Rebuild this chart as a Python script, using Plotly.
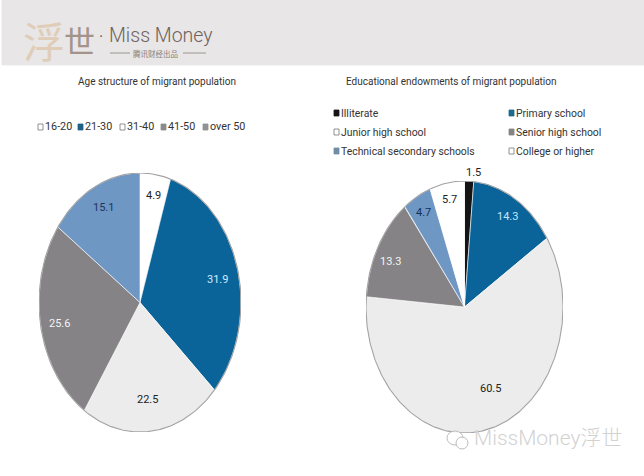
import numpy as np
import plotly.graph_objects as go

W, H = 644, 476

age_labels = ["16-20", "21-30", "31-40", "41-50", "over 50"]
age_values = [4.9, 31.9, 22.5, 25.6, 15.1]
edu_labels = ["Illiterate", "Primary school", "Junior high school", "Senior high school",
              "Technical secondary schools", "College or higher"]
edu_values = [1.5, 14.3, 60.5, 13.3, 4.7, 5.7]

age_title = "Age structure of migrant population"
edu_title = "Educational endowments of migrant population"

WHITE, BLUE, LIGHT, GREY, SKY, BLACK = "#ffffff", "#0a6399", "#ececec", "#858385", "#6f97c4", "#141414"
age_colors = [WHITE, BLUE, LIGHT, GREY, SKY]
edu_colors = [BLACK, BLUE, LIGHT, GREY, SKY, WHITE]
age_text_colors = ["#222222", "#d5ecff", "#222222", "#f4f4f4", "#1c3560"]
edu_text_colors = ["#222222", "#c4e6ff", "#222222", "#f4f4f4", "#12305c", "#222222"]
age_legend_colors = [WHITE, "#1f6285", WHITE, "#8a8a8a", "#8f9396"]
edu_legend_colors = [BLACK, "#1a6a8c", WHITE, "#858385", "#6f8ea6", WHITE]

age_label_px = [(153, 195), (218, 279), (147, 399), (59, 323), (103, 207)]
edu_label_px = [(473, 172), (507, 217), (490, 388), (391, 261), (423, 213), (449, 199)]

FONT = "Roboto, Liberation Sans, Arial, sans-serif"
CJK = "Noto Sans CJK SC, sans-serif"


def px(x, y):
    return x / W, 1 - y / H


fig = go.Figure()
annotations, shapes = [], []


def text(x, y, s, size=11, color="#333333", font=FONT, anchor="left", weight=400):
    fx, fy = px(x, y)
    annotations.append(dict(xref="paper", yref="paper", x=fx, y=fy, text=s, showarrow=False,
                            xanchor=anchor, yanchor="middle", align=anchor,
                            xshift=0, yshift=0, borderpad=0, borderwidth=0,
                            font=dict(size=size, color=color, family=font, weight=weight)))


def rect(x0, y0, x1, y1, fill, line=None, lw=0.8):
    a, b = px(x0, y0)
    c, d = px(x1, y1)
    shapes.append(dict(type="rect", xref="paper", yref="paper", x0=a, y0=b, x1=c, y1=d,
                       fillcolor=fill, line=dict(color=line or fill, width=lw), layer="below"))


def hline(x0, x1, y, color, lw=0.8):
    a, b = px(x0, y)
    c, _ = px(x1, y)
    shapes.append(dict(type="line", xref="paper", yref="paper", x0=a, y0=b, x1=c, y1=b,
                       line=dict(color=color, width=lw)))


def add_pie(values, labels, colors, xname, yname):
    edges = np.cumsum([0] + values) / sum(values) * 2 * np.pi
    for i, (lab, col) in enumerate(zip(labels, colors)):
        t = np.linspace(edges[i], edges[i + 1], 80)
        xs = np.concatenate([[0], np.sin(t), [0]])
        ys = np.concatenate([[0], np.cos(t), [0]])
        fig.add_trace(go.Scatter(x=xs, y=ys, xaxis=xname, yaxis=yname, mode="lines", fill="toself",
                                 fillcolor=col, line=dict(color="rgba(255,255,255,0.75)", width=0.8),
                                 name=lab, hoverinfo="name", showlegend=False))
    t = np.linspace(0, 2 * np.pi, 360)
    fig.add_trace(go.Scatter(x=np.sin(t), y=np.cos(t), xaxis=xname, yaxis=yname, mode="lines",
                             line=dict(color="#a2a2a2", width=1.1), hoverinfo="skip", showlegend=False))


add_pie(age_values, age_labels, age_colors, "x", "y")
add_pie(edu_values, edu_labels, edu_colors, "x2", "y2")


def axis(lo, hi):
    return dict(domain=[lo, hi], range=[-1, 1], visible=False, fixedrange=True)


layout_axes = dict(
    xaxis=axis(39 / W, 241 / W),
    yaxis=axis(1 - 432 / H, 1 - 173 / H),
    xaxis2=axis(366 / W, 563 / W),
    yaxis2=axis(1 - 433 / H, 1 - 181 / H),
)

# value labels
for v, c, (x, y) in zip(age_values, age_text_colors, age_label_px):
    text(x, y, f"{v:.1f}", size=11, color=c, anchor="center")
for v, c, (x, y) in zip(edu_values, edu_text_colors, edu_label_px):
    text(x, y, f"{v:.1f}", size=11, color=c, anchor="center")

# titles
text(157, 81, age_title, size=10, anchor="center")
text(451, 81, edu_title, size=10, anchor="center")

# legends
age_legend_x = [38, 78, 120, 161, 203]
for lab, col, x in zip(age_labels, age_legend_colors, age_legend_x):
    rect(x, 124, x + 5, 130, col, line="#777777" if col == WHITE else col)
    text(x + 7, 127, lab, size=10.8)

edu_legend_xy = [(334, 113), (509, 113), (334, 132), (509, 132), (334, 151), (509, 151)]
for lab, col, (x, y) in zip(edu_labels, edu_legend_colors, edu_legend_xy):
    rect(x, y - 3, x + 5, y + 3, col, line="#777777" if col == WHITE else col)
    text(x + 7, y, lab, size=10.4)

# header band and logo
rect(2, 0, W, 65, "#e8e6e6")
text(23, 39, "浮", size=42, color="#e0cdb8", font=CJK)
text(64, 39, "世", size=31, color="#a3938a", font=CJK)
text(99, 37, "·", size=16, color="#6e625c", font=FONT)
text(109, 36, "Miss Money", size=19.5, color="#6f625c", font=FONT, weight=300)
text(155, 53, "腾讯财经出品", size=7.5, color="#8a8078", font=CJK, anchor="center")
hline(110, 130, 53, "#8a8078")
hline(183, 206, 53, "#8a8078")

# watermark
text(474, 438, "MissMoney浮世", size=21, color="#d2d2d2", font="Roboto, " + CJK, weight=300)
for (x0, y0, x1, y1) in [(447, 431, 463, 445), (456, 437, 468, 449)]:
    a, b = px(x0, y1)
    c, d = px(x1, y0)
    shapes.append(dict(type="circle", xref="paper", yref="paper", x0=a, y0=b, x1=c, y1=d,
                       fillcolor="rgba(255,255,255,0.9)", line=dict(color="#b5b5b5", width=0.9)))

fig.update_layout(
    width=W, height=H, margin=dict(l=0, r=0, t=0, b=0), autosize=False,
    paper_bgcolor="#ffffff", plot_bgcolor="rgba(0,0,0,0)", showlegend=False,
    annotations=annotations, shapes=shapes, **layout_axes,
)
fig.write_html("out.html", config={"displayModeBar": False},
               post_script="document.body.style.margin='0';")
